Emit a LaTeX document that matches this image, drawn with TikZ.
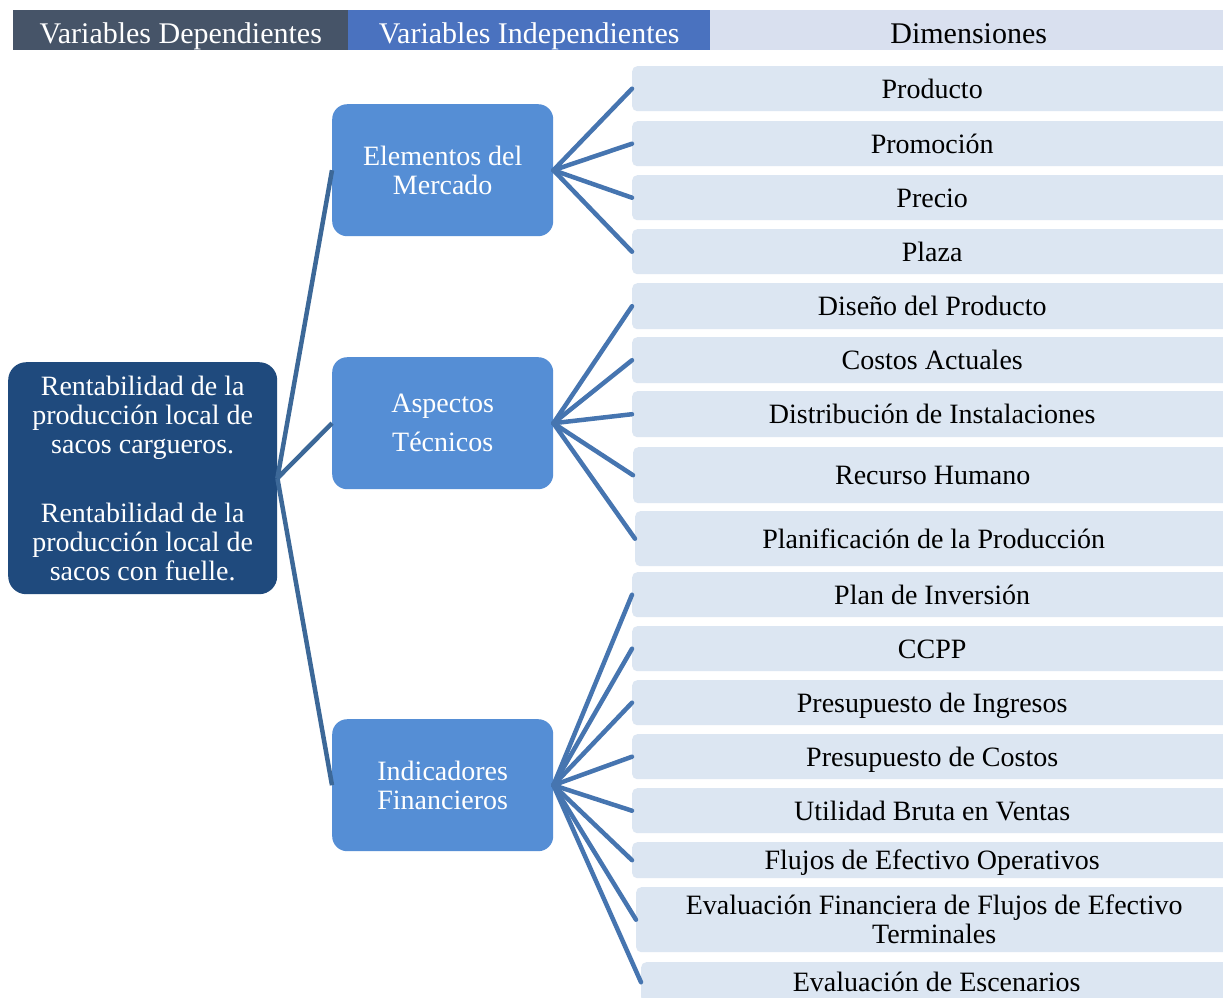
\documentclass[tikz,border=0pt]{standalone}
\usepackage{fontspec}
\setmainfont{Liberation Serif}
\definecolor{hdark}{HTML}{465468}
\definecolor{hblue}{HTML}{4A72BF}
\definecolor{hlight}{HTML}{D9E0EF}
\definecolor{navy}{HTML}{1F4A7D}
\definecolor{midblue}{HTML}{558ED5}
\definecolor{pale}{HTML}{DCE6F2}
\definecolor{lineL}{HTML}{3C6898}
\definecolor{lineR}{HTML}{4675B0}
\begin{document}
\begin{tikzpicture}[x=1pt,y=-1pt,
  hdr/.style={draw=none,inner sep=0pt,anchor=north west,font=\fontsize{30}{32}\selectfont,text height=28pt,text depth=2pt},
  depbox/.style={fill=navy,rounded corners=18pt,anchor=north west,inner sep=0pt,text=white,align=center,font=\fontsize{28}{29}\selectfont,minimum width=269pt,minimum height=232pt},
  indbox/.style={fill=midblue,rounded corners=15pt,anchor=north west,inner sep=0pt,text=white,align=center,font=\fontsize{28}{29}\selectfont,minimum width=221pt,minimum height=132pt},
  dimbox/.style={fill=pale,rounded corners=5pt,anchor=north west,inner sep=0pt,align=center,font=\fontsize{28}{29}\selectfont},
  oneline/.style={text height=22pt,text depth=3pt},
  connL/.style={draw=lineL,line width=4.5pt},
  connR/.style={draw=lineR,line width=4.5pt,line cap=round}]
\useasboundingbox (0,0) rectangle (1223,997);
\fill[white] (0,0) rectangle (1223,997);
% header
\node[hdr,fill=hdark,minimum width=335pt,minimum height=40pt,text=white] (h1) at (13,10) {Variables Dependientes};
\node[hdr,fill=hblue,minimum width=362pt,minimum height=40pt,text=white] (h2) at (348,10) {Variables Independientes};
\node[hdr,fill=hlight,minimum width=517pt,minimum height=40pt,text=black] (h3) at (710,10) {Dimensiones};
% dependent
\node[depbox] (dep) at (8,362) {Rentabilidad de la\\producción local de\\sacos cargueros.\\[40pt]Rentabilidad de la\\producción local de\\sacos con fuelle.};
% independent
\node[indbox] (m1) at (332,104) {Elementos del\\Mercado};
\node[indbox] (m2) at (332,357) {Aspectos\\[10pt]Técnicos};
\node[indbox] (m3) at (332,719) {Indicadores\\Financieros};
% dimensions
\node[dimbox,oneline,minimum width=600pt,minimum height=45pt] (d1) at (632,66) {Producto};
\node[dimbox,oneline,minimum width=600pt,minimum height=45pt] (d2) at (632,121) {Promoción};
\node[dimbox,oneline,minimum width=600pt,minimum height=45pt] (d3) at (632,175) {Precio};
\node[dimbox,oneline,minimum width=600pt,minimum height=45pt] (d4) at (632,229) {Plaza};
\node[dimbox,oneline,minimum width=600pt,minimum height=46pt] (d5) at (632,283) {Diseño del Producto};
\node[dimbox,oneline,minimum width=600pt,minimum height=46pt] (d6) at (632,337) {Costos Actuales};
\node[dimbox,oneline,minimum width=600pt,minimum height=46pt] (d7) at (632,391) {Distribución de Instalaciones};
\node[dimbox,oneline,minimum width=599pt,minimum height=56pt] (d8) at (633,447) {Recurso Humano};
\node[dimbox,oneline,minimum width=597pt,minimum height=55pt] (d9) at (635,511) {Planificación de la Producción};
\node[dimbox,oneline,minimum width=600pt,minimum height=45pt] (d10) at (632,572) {Plan de Inversión};
\node[dimbox,oneline,minimum width=600pt,minimum height=45pt] (d11) at (632,626) {CCPP};
\node[dimbox,oneline,minimum width=600pt,minimum height=45pt] (d12) at (632,680) {Presupuesto de Ingresos};
\node[dimbox,oneline,minimum width=600pt,minimum height=45pt] (d13) at (632,734) {Presupuesto de Costos};
\node[dimbox,oneline,minimum width=600pt,minimum height=45pt] (d14) at (632,788) {Utilidad Bruta en Ventas};
\node[dimbox,oneline,minimum width=600pt,minimum height=36pt] (d15) at (632,842) {Flujos de Efectivo Operativos};
\node[dimbox,minimum width=596pt,minimum height=65pt] (d16) at (636,887) {Evaluación Financiera de Flujos de Efectivo\\Terminales};
\node[dimbox,oneline,minimum width=591pt,minimum height=40pt] (d17) at (641,962) {Evaluación de Escenarios};
% connectors
\foreach \m in {m1,m2,m3} \draw[connL] (dep.east) -- (\m.west);
\foreach \d in {d1,d2,d3,d4} \draw[connR] (m1.east) -- (\d.west);
\foreach \d in {d5,d6,d7,d8,d9} \draw[connR] (m2.east) -- (\d.west);
\foreach \d in {d10,d11,d12,d13,d14,d15,d16,d17} \draw[connR] (m3.east) -- (\d.west);
\end{tikzpicture}
\end{document}
